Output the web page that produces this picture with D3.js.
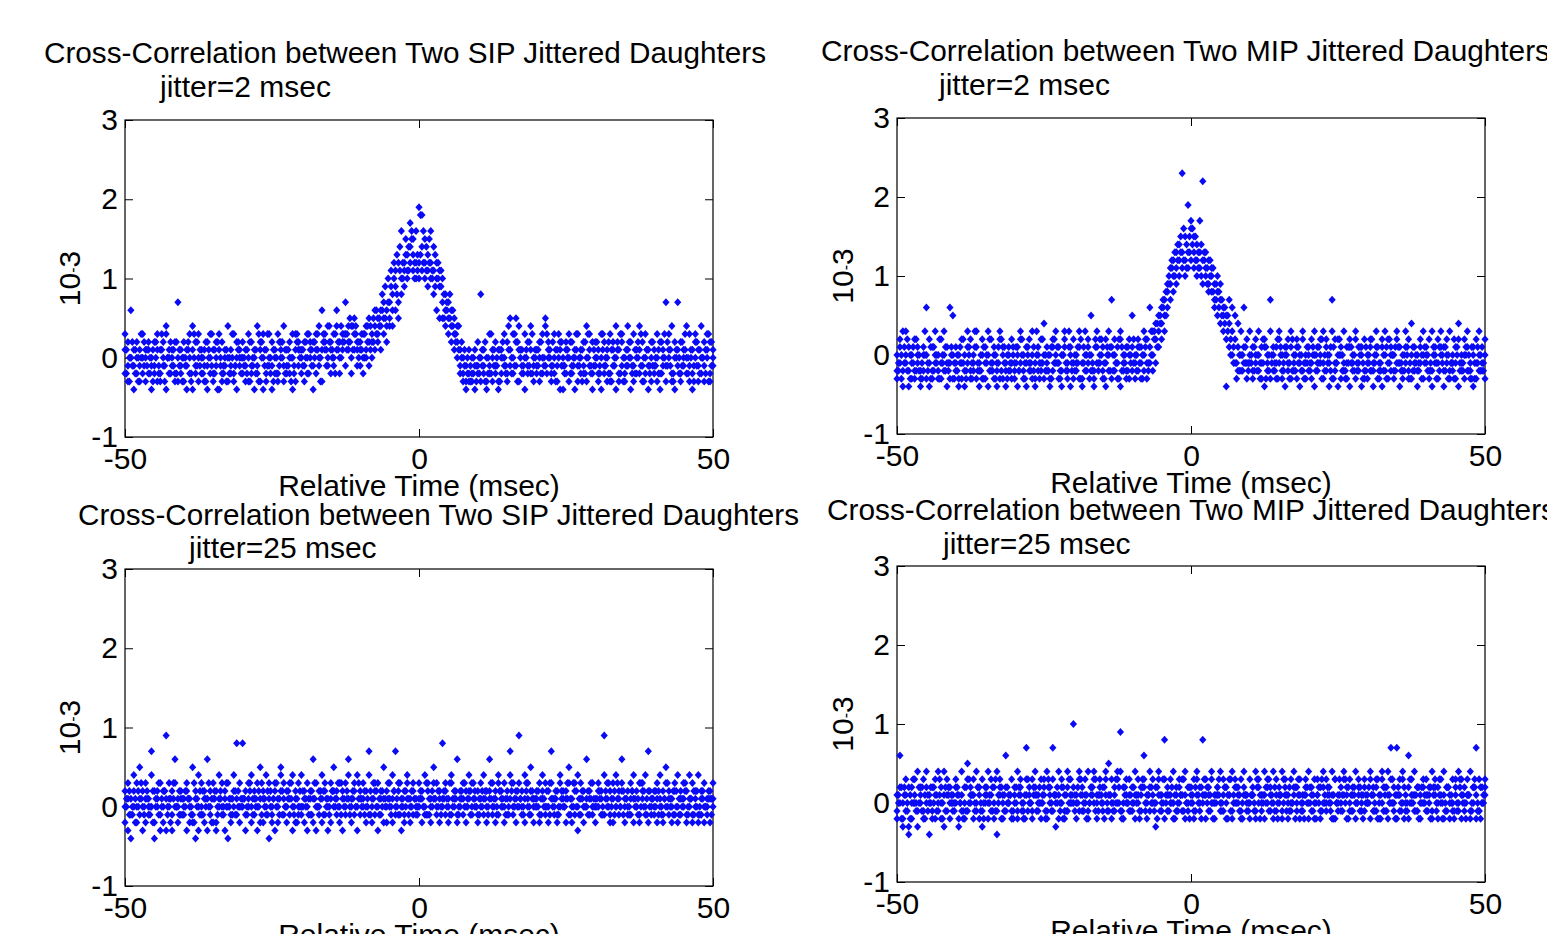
<!DOCTYPE html>
<html><head><meta charset="utf-8">
<script src="https://cdn.jsdelivr.net/npm/d3@7"></script>
<style>
body{margin:0;background:#fff}
svg{display:block}
text{font-family:"Liberation Sans",Arial,Helvetica,sans-serif;fill:#000}
</style>
</head><body>
<svg id="chart" width="1547" height="934"></svg>
<script>
// ---------- data ----------
const xTicks = [-50, 0, 50];
const yTicks = [-1, 0, 1, 2, 3];
const xDomain = [-50, 50];
const yDomain = [-1, 3];
const gridA = {start: -50, step: 0.5};     // lags of the main strings (msec)
const gridB = {start: -49.75, step: 0.5};  // lags of the in-between strings (msec)
// each character is a y level: index in this code string minus 5, in tenths (x10^-3)
const levelCode = "0123456789ABCDEFGHIJKLMNOPQRSTUVWXYZ";
const titles = [
  "Cross-Correlation between Two SIP Jittered Daughters",
  "Cross-Correlation between Two MIP Jittered Daughters",
  "Cross-Correlation between Two SIP Jittered Daughters",
  "Cross-Correlation between Two MIP Jittered Daughters"
];
const jitterLabels = ["jitter=2 msec", "jitter=2 msec", "jitter=25 msec", "jitter=25 msec"];
const xLabel = "Relative Time (msec)";

// grid A: one group of points per lag, 20 lags per string
const sipJitter2 = [
  "368 274 B55 146 537 462 385 526 673 451 347 628 263 574 819 356 465 237 5C2 643",
  "275 461 538 196 743 582 356 624 471 385 263 547 816 372 654 925 463 238 571 645",
  "357 642 285 473 561 394 726 518 263 845 471 536 382 657 924 463 375 518 286 647",
  "563 742 385 657 471 836 594 2B6 678 495 763 584 9B6 375 687 C48 796 593 8A6 674",
  "476 583 695 4A7 785 9B6 A87 6B9 8AC B97 AC9 9DB BEG CHA LFD GHE IFG MHJ KGI LHF",
  "OHF NJG KHF IGE LFH JGD HFB GEA FAC DB9 AC8 B97 8A6 975 463 352 241 362 253 164",
  "374 D52 463 251 384 625 743 162 536 458 273 A64 385 A47 926 364 581 473 639 245",
  "463 572 385 9A4 657 342 583 264 716 451 367 825 473 561 248 635 374 952 486 317",
  "574 263 851 437 625 382 746 591 263 478 352 649 715 284 563 936 472 385 614 257",
  "463 825 371 546 2C4 658 392 517 C46 273 564 935 482 361 758 426 593 247 685 372 564"
];
const mipJitter2 = [
  "352 467 813 854 631 425 372 546 213 635 B52 741 326 584 253 472 835 614 B42 A25",
  "463 251 742 315 684 237 453 826 341 572 264 815 437 652 341 782 256 413 635 742",
  "324 561 847 253 416 734 582 241 653 374 925 436 152 673 845 264 531 786 342 615",
  "472 354 628 241 853 467 A35 312 684 547 263 741 835 C26 573 264 817 345 623 752",
  "A63 452 736 264 853 472 B64 385 794 A86 9B7 8CA DBE EGC FHD GIE HFJ SGI KHF OIG",
  "MLH KIG JHF MGI RHE IFG HED FDG EBC DAF CE9 B8A 1A7 C96 8B5 A74 693 385 B64 472",
  "584 362 745 853 264 671 435 C82 563 246 784 352 615 473 826 354 267 541 738 425",
  "653 472 815 364 547 248 736 451 C82 374 517 265 843 426 671 354 782 463 516 237",
  "452 763 314 586 243 671 835 427 563 352 784 416 253 648 372 925 463 531 746 285",
  "564 372 813 456 247 685 361 574 832 453 264 719 345 572 836 243 615 472 358 634 725"
];
const sipJitter25 = [
  "573 682 461 795 358 A64 275 863 546 9C5 371 657 284 735 E62 568 472 B85 356 674",
  "465 782 356 A43 671 295 548 763 B26 457 683 372 965 548 276 851 463 597 D64 385",
  "D56 472 685 359 746 582 A63 367 594 816 453 782 365 9A7 468 573 846 259 673 485",
  "594 367 852 476 6B3 285 754 963 478 562 386 A75 647 853 276 584 B69 365 748 592",
  "467 856 375 9C4 563 748 285 674 A36 573 865 396 C54 487 652 374 968 536 784 465",
  "586 763 459 874 365 A68 584 376 D65 847 563 489 765 B43 576 684 357 976 548 765",
  "473 856 694 375 B67 584 763 948 576 385 674 C96 458 763 E85 574 396 865 A47 563",
  "756 384 967 548 375 C86 564 473 895 657 376 A84 563 748 295 684 573 B65 476 854",
  "563 785 476 E94 658 374 863 595 476 B87 365 754 486 963 575 348 867 594 C73 465",
  "754 386 965 473 A58 674 365 847 593 476 865 374 956 483 765 394 674 583 465 376 568"
];
const mipJitter25 = [
  "463 B75 352 684 271 573 865 492 657 384 795 561 473 836 549 375 962 486 753 564",
  "875 362 496 753 A84 567 386 945 673 482 756 395 864 573 491 687 365 B74 556 843",
  "765 493 876 354 C86 675 483 967 564 385 876 493 675 C84 562 396 875 463 794 586",
  "F75 563 894 476 685 394 776 958 563 687 475 896 A64 583 476 985 E94 573 865 486",
  "574 963 685 476 B87 563 794 685 572 986 465 D83 674 586 395 764 875 486 963 574",
  "765 483 896 574 D65 386 674 985 563 776 495 684 573 866 394 785 576 483 967 654",
  "385 766 493 875 564 396 785 674 593 486 765 394 876 563 485 796 574 683 465 876",
  "593 674 385 866 473 795 584 675 396 883 564 475 896 673 485 764 593 876 465 784",
  "565 893 476 784 563 985 674 396 C85 574 C63 486 895 564 B73 685 496 774 563 875",
  "486 765 394 876 573 685 396 774 563 485 876 594 683 475 866 394 775 C63 484 575 876"
];
// grid B: points between the grid A lags
const sipJitter2B = [
  "36 52 47 63 25 58 74 46 35 62 57 43 68 24 55 73 46 37 64 52",
  "45 67 32 58 74 46 53 27 65 48 36 71 54 43 62 35 58 44 76 53",
  "54 36 72 45 63 28 57 46 84 35 62 53 47 75 36 64 52 43 78 56",
  "64 57 83 46 75 68 52 87 64 79 56 83 67 95 78 86 A7 69 98 75",
  "68 85 79 96 A7 8B 9A BD AE CF EG FH DI GJ HF IK JG KL HF GI",
  "NI LH JG HK GF IE FH EG DA CB AD 9B 87 96 75 64 53 42 35 24",
  "35 46 27 53 38 64 45 26 57 43 69 35 48 72 56 34 65 47 83 56",
  "46 73 54 38 65 47 26 58 74 43 65 37 54 86 45 62 37 58 43 64",
  "57 34 68 45 73 26 54 67 38 52 46 75 34 63 57 48 25 66 43 74",
  "45 63 37 58 74 46 32 65 53 47 68 35 56 42 74 36 55 63 28 47"
];
const mipJitter2B = [
  "43 25 64 37 52 46 73 35 24 58 43 62 36 54 27 45 63 34 56 42",
  "35 64 47 23 56 42 68 34 53 26 45 73 34 52 46 37 64 25 43 56",
  "46 33 57 24 65 43 36 58 42 74 35 53 26 47 64 32 55 43 68 34",
  "53 46 27 64 35 52 43 76 34 57 42 65 36 53 44 27 63 45 36 54",
  "47 35 64 52 76 43 58 87 69 9A BC AD EF GH IF HJ KI LH JG IK",
  "LJ HK IG JF HI GE FH DG CE BD AC 9B 8A 57 64 42 35 53 46 34",
  "45 36 53 24 47 62 35 54 43 27 65 34 56 42 73 35 46 53 24 64",
  "43 56 35 64 27 53 45 36 62 44 57 35 23 64 46 53 34 65 42 36",
  "54 37 45 62 34 53 26 47 55 36 64 43 35 56 24 63 45 34 52 46",
  "35 43 56 24 63 45 36 52 44 27 65 34 43 56 35 62 24 46 53 34"
];
const sipJitter25B = [
  "56 74 45 63 57 86 54 67 45 73 56 48 65 77 54 36 68 55 74 46",
  "57 66 45 83 56 74 47 65 58 36 76 54 67 45 85 56 64 47 75 56",
  "66 54 78 46 65 57 84 56 47 75 66 58 46 74 55 67 86 45 63 57",
  "75 56 64 47 86 55 67 74 56 45 77 65 58 84 56 67 45 76 55 68",
  "56 74 65 47 86 57 64 75 56 68 45 77 56 84 65 57 46 75 66 54",
  "67 55 84 46 75 66 57 45 76 65 84 56 67 45 76 58 65 47 86 55",
  "64 57 76 45 86 65 54 77 56 64 45 87 56 75 66 54 78 45 67 56",
  "75 46 65 57 84 56 67 45 76 55 68 46 85 57 64 76 55 47 86 65",
  "56 67 45 76 58 65 47 86 55 74 66 45 77 56 64 85 57 46 75 66",
  "57 74 45 66 85 56 47 75 64 56 87 45 66 74 57 45 76 55 67 46"
];
const mipJitter25B = [
  "65 37 76 54 63 85 45 57 74 36 46 75 57 64 86 35 47 76 65 54",
  "76 55 34 47 85 66 54 77 45 35 76 56 47 84 65 37 46 75 66 34",
  "57 76 45 36 84 55 67 46 75 56 34 87 45 66 75 54 37 46 85 56",
  "64 57 86 45 36 55 67 84 46 65 37 54 66 45 85 57 34 76 55 46",
  "75 56 34 87 45 66 75 54 37 46 85 56 64 57 36 45 66 84 55 37",
  "56 74 65 37 86 57 64 35 56 68 45 77 36 84 65 57 46 35 66 54",
  "66 54 78 36 65 57 84 56 47 35 66 58 46 74 55 37 86 45 63 57",
  "75 46 35 57 84 56 67 45 36 55 68 46 85 37 64 76 55 47 36 65",
  "57 66 45 83 36 74 47 65 58 36 76 54 37 45 85 56 64 37 75 56",
  "64 37 76 45 86 35 54 77 56 34 45 87 56 35 66 54 78 45 37 56"
];
const seriesA = [sipJitter2, mipJitter2, sipJitter25, mipJitter25];
const seriesB = [sipJitter2B, mipJitter2B, sipJitter25B, mipJitter25B];

// ---------- layout ----------
const panels = [
  {l:125, r:713,  t:120, b:437, tx:44,  ty:63,  tw:722, jx:160, jy:97,  yl:70},
  {l:897, r:1485, t:118, b:434, tx:821, ty:61,  tw:729, jx:939, jy:95,  yl:843},
  {l:125, r:713,  t:569, b:886, tx:78,  ty:525, tw:721, jx:189, jy:558, yl:70},
  {l:897, r:1485, t:566, b:882, tx:827, ty:520, tw:729, jx:943, jy:554, yl:843}
];
const FS = 30;
const markerColor = "#0a0af5";

function decode(rows, grid) {
  const pts = [];
  rows.join(" ").trim().split(/\s+/).forEach((grp, i) => {
    const xv = grid.start + i * grid.step;
    for (const ch of grp) pts.push({x: xv, y: (levelCode.indexOf(ch) - 5) / 10});
  });
  return pts;
}

const svg = d3.select("#chart");
const diamond = "M0,-4L3.6,0L0,4L-3.6,0Z";

panels.forEach((p, k) => {
  const w = p.r - p.l, h = p.b - p.t;
  const x = d3.scaleLinear().domain(xDomain).range([0, w]);
  const y = d3.scaleLinear().domain(yDomain).range([h, 0]);
  const g = svg.append("g").attr("transform", `translate(${p.l},${p.t})`);

  const fmt = d => String(d);
  const ax = (sel) => {
    sel.select(".domain").remove();
    sel.selectAll("line").attr("stroke", "#000").attr("stroke-width", 1);
    sel.selectAll("text").attr("font-family", '"Liberation Sans",Arial,sans-serif').attr("font-size", FS).attr("fill", "#000");
    sel.attr("font-family", null).attr("font-size", null);
  };
  g.append("g").call(d3.axisLeft(y).tickValues(yTicks).tickSizeInner(-8).tickSizeOuter(0).tickPadding(7).tickFormat(fmt)).call(ax);
  g.append("g").attr("transform", `translate(${w},0)`).call(d3.axisRight(y).tickValues(yTicks).tickSizeInner(-8).tickSizeOuter(0).tickFormat("")).call(ax);
  g.append("g").attr("transform", `translate(0,${h})`).call(d3.axisBottom(x).tickValues(xTicks).tickSizeInner(-8).tickSizeOuter(0).tickPadding(11).tickFormat(fmt)).call(ax);
  g.append("g").call(d3.axisTop(x).tickValues(xTicks).tickSizeInner(-8).tickSizeOuter(0).tickFormat("")).call(ax);

  g.append("rect").attr("x", 0).attr("y", 0).attr("width", w).attr("height", h)
    .attr("fill", "none").attr("stroke", "#000").attr("stroke-width", 1.2);

  const pts = decode(seriesA[k], gridA).concat(decode(seriesB[k], gridB));
  g.append("g").selectAll("path").data(pts).join("path")
    .attr("d", diamond)
    .attr("transform", d => `translate(${x(d.x)},${y(d.y)})`)
    .attr("fill", markerColor);

  // titles and labels
  svg.append("text").attr("x", p.tx).attr("y", p.ty).attr("font-size", FS)
    .attr("textLength", p.tw).attr("lengthAdjust", "spacingAndGlyphs").text(titles[k]);
  svg.append("text").attr("x", p.jx).attr("y", p.jy).attr("font-size", FS).text(jitterLabels[k]);
  svg.append("text").attr("x", p.l + w / 2).attr("y", p.b + 59).attr("text-anchor", "middle")
    .attr("font-size", FS).text(xLabel);
  const yl = svg.append("text").attr("transform", `translate(${p.yl + 10},${p.t + h * 0.5})rotate(-90)`)
    .attr("text-anchor", "middle").attr("font-size", FS);
  yl.append("tspan").text("10");
  yl.append("tspan").attr("font-size", 16).attr("dy", -2).text("-");
  yl.append("tspan").attr("dy", 2).text("3");
});
</script>
</body></html>
